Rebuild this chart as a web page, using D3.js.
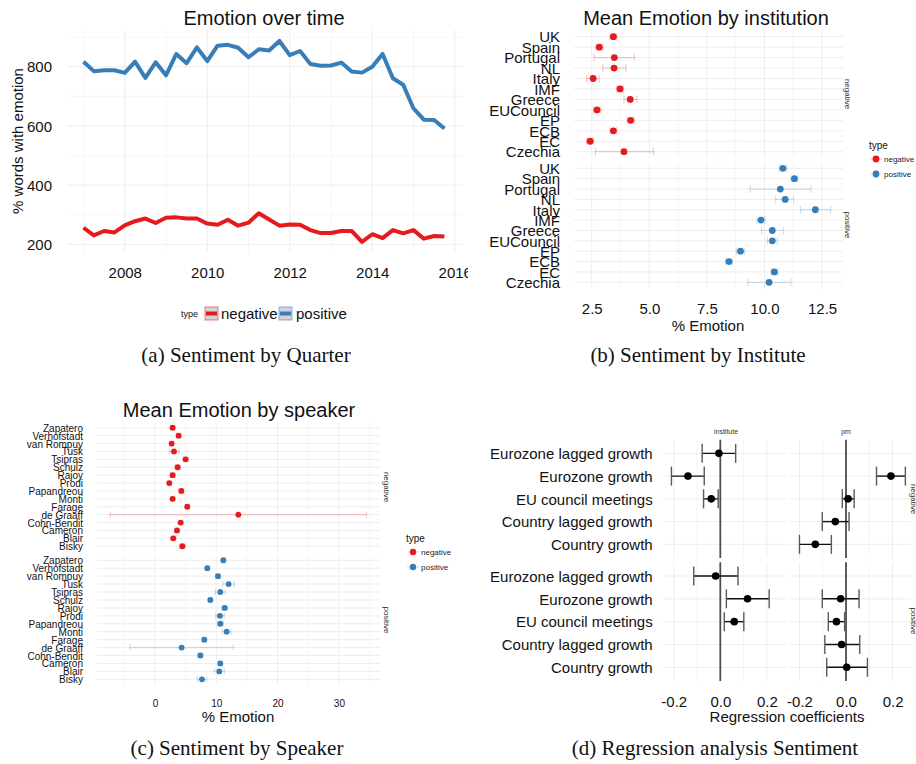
<!DOCTYPE html>
<html>
<head>
<meta charset="utf-8">
<script src="https://cdn.jsdelivr.net/npm/d3@7"></script>
<style>body{margin:0;background:#fff}</style>
</head>
<body>
<div id="chart"></div>
<script>
//--------------------------- Data

// (a) quarterly emotion counts
var quarters = ["2007Q1","2007Q2","2007Q3","2007Q4","2008Q1","2008Q2","2008Q3","2008Q4",
  "2009Q1","2009Q2","2009Q3","2009Q4","2010Q1","2010Q2","2010Q3","2010Q4",
  "2011Q1","2011Q2","2011Q3","2011Q4","2012Q1","2012Q2","2012Q3","2012Q4",
  "2013Q1","2013Q2","2013Q3","2013Q4","2014Q1","2014Q2","2014Q3","2014Q4",
  "2015Q1","2015Q2","2015Q3","2015Q4"];
var positiveSeries = [817,785,788,788,779,817,762,815,771,843,812,865,819,871,874,864,
  832,859,855,887,839,853,809,803,804,814,784,780,800,843,761,739,659,621,620,591];
var negativeSeries = [256,230,245,240,264,278,287,272,290,291,287,287,270,266,283,263,
  273,305,284,263,267,266,248,238,238,245,245,208,234,221,248,237,248,219,228,226];
var yearTicks = [2008,2010,2012,2014,2016];
var countTicks = [200,400,600,800];

// (b) institutions
var institutions = ["UK","Spain","Portugal","NL","Italy","IMF","Greece","EUCouncil","EP","ECB","EC","Czechia"];
var instNegMean = [3.44,2.83,3.48,3.47,2.56,3.73,4.17,2.73,4.19,3.44,2.43,3.90];
var instNegLo   = [3.29,2.68,2.61,2.98,2.28,3.58,3.90,2.57,4.04,3.29,2.28,2.66];
var instNegHi   = [3.59,2.98,4.35,3.99,2.82,3.88,4.46,2.90,4.34,3.59,2.58,5.18];
var instPosMean = [10.80,11.30,10.69,10.90,12.21,9.85,10.34,10.34,8.96,8.46,10.43,10.20];
var instPosLo   = [10.64,11.15,9.38,10.48,11.57,9.67,9.87,10.12,8.78,8.31,10.28,9.27];
var instPosHi   = [10.96,11.45,12.02,11.27,12.87,10.03,10.83,10.56,9.14,8.61,10.58,11.15];
var instTicks = [2.5,5.0,7.5,10.0,12.5];

// (c) speakers
var speakers = ["Zapatero","Verhofstadt","van Rompuy","Tusk","Tsipras","Schulz","Rajoy","Prodi",
  "Papandreou","Monti","Farage","de Graaff","Cohn-Bendit","Cameron","Blair","Bisky"];
var spkNegMean = [2.88,3.86,2.72,3.10,5.00,3.70,2.88,2.34,4.30,2.88,5.27,13.6,4.19,3.59,2.99,4.46];
var spkNegLo   = [2.50,3.50,2.40,2.34,4.60,3.30,2.50,2.00,3.90,2.50,4.90,-7.3,3.80,3.20,2.60,4.00];
var spkNegHi   = [3.26,4.22,3.04,3.97,5.40,4.10,3.26,2.70,4.70,3.26,5.60,34.5,4.60,4.00,3.40,4.90];
var spkPosMean = [11.15,8.54,10.28,12.02,10.66,9.03,11.37,10.60,10.66,11.69,8.05,4.35,7.40,10.66,10.49,7.67];
var spkPosLo   = [10.80,8.20,9.90,11.04,9.86,8.70,10.90,9.90,10.16,10.99,7.70,-4.08,7.00,10.30,9.64,6.91];
var spkPosHi   = [11.50,8.90,10.66,12.94,11.46,9.36,11.84,11.30,11.16,12.39,8.40,12.78,7.80,11.00,11.34,8.43];
var spkTicks = [0,10,20,30];

// (d) regression
var regVars = ["Eurozone lagged growth","Eurozone growth","EU council meetings","Country lagged growth","Country growth"];
var regInstNegEst = [-0.006,-0.139,-0.039,null,null];
var regInstNegLo  = [-0.078,-0.210,-0.072,null,null];
var regInstNegHi  = [0.066,-0.069,-0.009,null,null];
var regPmNegEst   = [null,0.193,0.009,-0.046,-0.132];
var regPmNegLo    = [null,0.131,-0.016,-0.102,-0.200];
var regPmNegHi    = [null,0.255,0.035,0.013,-0.063];
var regInstPosEst = [-0.020,0.117,0.060,null,null];
var regInstPosLo  = [-0.114,0.026,0.017,null,null];
var regInstPosHi  = [0.076,0.210,0.101,null,null];
var regPmPosEst   = [null,-0.023,-0.041,-0.019,0.003];
var regPmPosLo    = [null,-0.102,-0.076,-0.091,-0.083];
var regPmPosHi    = [null,0.056,-0.006,0.059,0.092];
var regTicks = [-0.2,0.0,0.2];

//--------------------------- SVG definition

var RED = "#E41A1C", BLUE = "#377EB8";
var GRID = "#ededed", GRIDMINOR = "#f6f6f6";
var SANS = "'Liberation Sans', Arial, sans-serif";

var svg = d3.select("#chart").append("svg")
  .attr("width", 916).attr("height", 764)
  .style("font-family", SANS);
svg.append("rect").attr("width", 916).attr("height", 764).attr("fill", "#fff");

//--------------------------- Helpers

function vgrid(g, x, vals, y0, y1, col) {
  g.selectAll(null).data(vals).enter().append("line")
    .attr("x1", d => x(d)).attr("x2", d => x(d))
    .attr("y1", y0).attr("y2", y1)
    .attr("stroke", col).attr("stroke-width", 1);
}
function hgrid(g, y, vals, x0, x1, col) {
  g.selectAll(null).data(vals).enter().append("line")
    .attr("y1", d => y(d)).attr("y2", d => y(d))
    .attr("x1", x0).attr("x2", x1)
    .attr("stroke", col).attr("stroke-width", 1);
}
function text(g, x, y, s, size, anchor, extra) {
  var t = g.append("text").attr("x", x).attr("y", y).text(s)
    .attr("font-size", size).attr("text-anchor", anchor || "middle").attr("fill", "#111");
  if (extra) extra(t);
  return t;
}
function bottomAxis(g, x, vals, y, size, fmt) {
  var ax = g.append("g").attr("transform", "translate(0," + y + ")")
    .call(d3.axisBottom(x).tickValues(vals).tickSize(0).tickPadding(0).tickFormat(fmt));
  ax.select(".domain").remove();
  ax.selectAll("text").attr("font-size", size).attr("font-family", SANS)
    .attr("fill", "#111").attr("dy", "0.35em");
}
function rowLabels(g, y, cats, x, size) {
  var ax = g.append("g").attr("transform", "translate(" + x + ",0)")
    .call(d3.axisLeft(y).tickSize(0).tickPadding(0));
  ax.select(".domain").remove();
  ax.selectAll("text").attr("font-size", size).attr("font-family", SANS)
    .attr("fill", "#111").attr("dy", "0.35em");
}
function strip(g, x, y, s, size) {
  g.append("text").attr("transform", "translate(" + x + "," + y + ")rotate(90)")
    .attr("text-anchor", "middle").attr("font-size", size).attr("fill", "#333").text(s);
}

// dot + error bar facet used by (b) and (c)
function dotFacet(g, cats, mean, lo, hi, color, x, y, capH, r) {
  var rows = cats.map((c, i) => ({c: c, m: mean[i], lo: lo[i], hi: hi[i]}));
  var xr = x.range();
  var clip = g.append("g");
  clip.selectAll(null).data(rows).enter().append("line")
    .attr("x1", d => Math.max(xr[0], x(d.lo))).attr("x2", d => Math.min(xr[1], x(d.hi)))
    .attr("y1", d => y(d.c)).attr("y2", d => y(d.c))
    .attr("stroke", color).attr("stroke-opacity", 0.22).attr("stroke-width", 1.2);
  ["lo", "hi"].forEach(function (k) {
    clip.selectAll(null).data(rows.filter(d => x(d[k]) >= xr[0] && x(d[k]) <= xr[1])).enter().append("line")
      .attr("x1", d => x(d[k])).attr("x2", d => x(d[k]))
      .attr("y1", d => y(d.c) - capH / 2).attr("y2", d => y(d.c) + capH / 2)
      .attr("stroke", color).attr("stroke-opacity", 0.22).attr("stroke-width", 1.2);
  });
  g.selectAll(null).data(rows).enter().append("circle")
    .attr("cx", d => x(d.m)).attr("cy", d => y(d.c)).attr("r", r).attr("fill", color);
}

function dotLegend(g, x, y, titleSize, itemSize, r, gap) {
  text(g, x - 7, y, "type", titleSize, "start");
  [["negative", RED], ["positive", BLUE]].forEach(function (e, i) {
    var cy = y + 10 + i * gap;
    g.append("line").attr("x1", x - 6).attr("x2", x + 6).attr("y1", cy).attr("y2", cy)
      .attr("stroke", e[1]).attr("stroke-opacity", 0.25);
    g.append("circle").attr("cx", x).attr("cy", cy).attr("r", r).attr("fill", e[1]);
    text(g, x + 8, cy + 3, e[0], itemSize, "start").attr("fill", "#222");
  });
}

//--------------------------- (a) Emotion over time

svg.append("clipPath").attr("id", "clipA").append("rect")
  .attr("x", 0).attr("y", 0).attr("width", 468).attr("height", 340);
var ga = svg.append("g").attr("clip-path", "url(#clipA)");

var xa = d3.scaleLinear().domain([2006.6, 2016.2]).range([67, 463]);
var ya = d3.scaleLinear().domain([174, 924]).range([252, 30]);
var qTime = quarters.map(q => +q.slice(0, 4) + (+q.slice(5) - 1) / 4);

vgrid(ga, xa, [2007, 2009, 2011, 2013, 2015], 30, 252, GRIDMINOR);
vgrid(ga, xa, yearTicks, 30, 252, GRID);
hgrid(ga, ya, [300, 500, 700, 900], 67, 463, GRIDMINOR);
hgrid(ga, ya, countTicks, 67, 463, GRID);

var lineA = d3.line().x((d, i) => xa(qTime[i])).y(d => ya(d));
[[negativeSeries, RED], [positiveSeries, BLUE]].forEach(function (s) {
  ga.append("path").datum(s[0]).attr("d", lineA)
    .attr("fill", "none").attr("stroke", s[1]).attr("stroke-width", 4)
    .attr("stroke-linejoin", "round").attr("stroke-linecap", "butt");
});

bottomAxis(ga, xa, yearTicks, 273, 15, d3.format("d"));
var yAx = ga.append("g").attr("transform", "translate(52,0)")
  .call(d3.axisLeft(ya).tickValues(countTicks).tickSize(0).tickPadding(0));
yAx.select(".domain").remove();
yAx.selectAll("text").attr("font-size", 15).attr("font-family", SANS).attr("fill", "#111").attr("dy", "0.35em");

text(ga, 264, 25, "Emotion over time", 20);
text(ga, 0, 0, "% words with emotion", 15, "middle",
  t => t.attr("transform", "translate(23,141)rotate(-90)").attr("x", null).attr("y", null));

// legend
text(ga, 181, 317, "type", 9, "start");
[["negative", RED, 205, 221], ["positive", BLUE, 279, 296]].forEach(function (e) {
  ga.append("rect").attr("x", e[2]).attr("y", 307).attr("width", 13).attr("height", 13)
    .attr("fill", "#d4d4d4").attr("stroke", e[1]).attr("stroke-opacity", 0.55).attr("stroke-width", 1);
  ga.append("line").attr("x1", e[2] + 1).attr("x2", e[2] + 12).attr("y1", 313.5).attr("y2", 313.5)
    .attr("stroke", e[1]).attr("stroke-width", 4);
  text(ga, e[3], 319, e[0], 15, "start");
});

//--------------------------- (b) Mean Emotion by institution

var gb = svg.append("g");
var xb = d3.scaleLinear().domain([1.73, 13.41]).range([574, 843]);
var ybN = d3.scalePoint().domain(institutions).range([30.4, 158]).padding(0.6);
var ybP = d3.scalePoint().domain(institutions).range([162.1, 288.5]).padding(0.6);

[[ybN, 30.4, 158], [ybP, 162.1, 288.5]].forEach(function (f) {
  vgrid(gb, xb, [3.75, 6.25, 8.75, 11.25], f[1], f[2], GRIDMINOR);
  vgrid(gb, xb, instTicks, f[1], f[2], GRID);
  hgrid(gb, f[0], institutions, 574, 843, GRID);
  rowLabels(gb, f[0], institutions, 560, 15);
});
dotFacet(gb, institutions, instNegMean, instNegLo, instNegHi, RED, xb, ybN, 8, 3.4);
dotFacet(gb, institutions, instPosMean, instPosLo, instPosHi, BLUE, xb, ybP, 8, 3.4);

bottomAxis(gb, xb, instTicks, 309, 15, d3.format(".1f"));
text(gb, 708, 331, "% Emotion", 15);
text(gb, 706, 25, "Mean Emotion by institution", 20);
strip(gb, 845, 94, "negative", 8);
strip(gb, 845, 225, "positive", 8);
dotLegend(gb, 876, 149, 10, 8, 3.4, 15);

//--------------------------- (c) Mean Emotion by speaker

var gc = svg.append("g");
var xc = d3.scaleLinear().domain([-9.5, 36.7]).range([96.7, 380]);
var ycN = d3.scalePoint().domain(speakers).range([423, 551]).padding(0.6);
var ycP = d3.scalePoint().domain(speakers).range([555.5, 684.1]).padding(0.6);

[[ycN, 423, 551], [ycP, 555.5, 684.1]].forEach(function (f) {
  vgrid(gc, xc, [-5, 5, 15, 25, 35], f[1], f[2], GRIDMINOR);
  vgrid(gc, xc, spkTicks, f[1], f[2], GRID);
  hgrid(gc, f[0], speakers, 96.7, 380, GRID);
  rowLabels(gc, f[0], speakers, 83, 10);
});
dotFacet(gc, speakers, spkNegMean, spkNegLo, spkNegHi, RED, xc, ycN, 6, 2.9);
dotFacet(gc, speakers, spkPosMean, spkPosLo, spkPosHi, BLUE, xc, ycP, 6, 2.9);

bottomAxis(gc, xc, spkTicks, 703, 10, d3.format("d"));
text(gc, 238, 722, "% Emotion", 15);
text(gc, 239, 417, "Mean Emotion by speaker", 20);
strip(gc, 384, 487, "negative", 8);
strip(gc, 384, 620, "positive", 8);
dotLegend(gc, 413, 542, 10, 8, 3.2, 15);

//--------------------------- (d) Regression analysis

var gd = svg.append("g");
var xdI = d3.scaleLinear().domain([-0.245, 0.278]).range([663.3, 785]);
var xdP = d3.scaleLinear().domain([-0.245, 0.278]).range([789, 910.7]);
var ydN = d3.scalePoint().domain(regVars).range([439.7, 558]).padding(0.6);
var ydP = d3.scalePoint().domain(regVars).range([562.3, 681]).padding(0.6);

var regFacets = [
  [xdI, ydN, regInstNegEst, regInstNegLo, regInstNegHi],
  [xdP, ydN, regPmNegEst, regPmNegLo, regPmNegHi],
  [xdI, ydP, regInstPosEst, regInstPosLo, regInstPosHi],
  [xdP, ydP, regPmPosEst, regPmPosLo, regPmPosHi]
];

regFacets.forEach(function (f) {
  var x = f[0], y = f[1], xr = x.range(), yr = y.range();
  vgrid(gd, x, [-0.1, 0.1], yr[0], yr[1], GRIDMINOR);
  vgrid(gd, x, regTicks, yr[0], yr[1], GRID);
  hgrid(gd, y, regVars, xr[0], xr[1], GRID);
  gd.append("line").attr("x1", x(0)).attr("x2", x(0)).attr("y1", yr[0]).attr("y2", yr[1])
    .attr("stroke", "#4d4d4d").attr("stroke-width", 1.8);
  var rows = regVars.map((v, i) => ({v: v, e: f[2][i], lo: f[3][i], hi: f[4][i]}))
    .filter(d => d.e !== null);
  gd.selectAll(null).data(rows).enter().append("line")
    .attr("x1", d => x(d.lo)).attr("x2", d => x(d.hi))
    .attr("y1", d => y(d.v)).attr("y2", d => y(d.v))
    .attr("stroke", "#111").attr("stroke-width", 1.4);
  ["lo", "hi"].forEach(function (k) {
    gd.selectAll(null).data(rows).enter().append("line")
      .attr("x1", d => x(d[k])).attr("x2", d => x(d[k]))
      .attr("y1", d => y(d.v) - 9.5).attr("y2", d => y(d.v) + 9.5)
      .attr("stroke", "#5a5a5a").attr("stroke-width", 1.4);
  });
  gd.selectAll(null).data(rows).enter().append("circle")
    .attr("cx", d => x(d.e)).attr("cy", d => y(d.v)).attr("r", 3.8).attr("fill", "#000");
});

rowLabels(gd, ydN, regVars, 652.7, 15);
rowLabels(gd, ydP, regVars, 652.7, 15);
var fmtReg = v => v.toFixed(1);
bottomAxis(gd, xdI, regTicks, 702, 15, fmtReg);
bottomAxis(gd, xdP, regTicks, 702, 15, fmtReg);
text(gd, 787, 722, "Regression coefficients", 15);
text(gd, 726, 434, "institute", 7).attr("fill", "#333");
text(gd, 846, 434, "pm", 7).attr("fill", "#333");
strip(gd, 911, 499, "negative", 8);
strip(gd, 911, 621, "positive", 8);

//--------------------------- Captions

var SERIF = "'Liberation Serif', 'Times New Roman', serif";
[["(a) Sentiment by Quarter", 246, 362], ["(b) Sentiment by Institute", 698, 362],
 ["(c) Sentiment by Speaker", 237, 755], ["(d) Regression analysis Sentiment", 715, 755]]
  .forEach(function (c) {
    text(svg, c[1], c[2], c[0], 21).attr("font-family", SERIF).attr("fill", "#111");
  });
</script>
</body>
</html>
